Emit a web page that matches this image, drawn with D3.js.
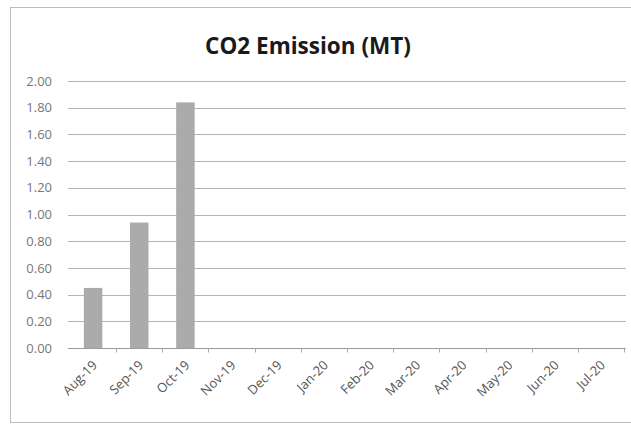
<!DOCTYPE html>
<html><head><meta charset="utf-8">
<script src="https://cdn.jsdelivr.net/npm/d3@7"></script>
<style>body{margin:0;background:#fff}svg{display:block}</style>
</head><body>
<svg id="c" width="631" height="426"></svg>
<script>
const categories = ["Aug-19","Sep-19","Oct-19","Nov-19","Dec-19","Jan-20","Feb-20","Mar-20","Apr-20","May-20","Jun-20","Jul-20"];
const emissions = [0.45, 0.94, 1.84, null, null, null, null, null, null, null, null, null];
const yTicks = [0, 0.2, 0.4, 0.6, 0.8, 1.0, 1.2, 1.4, 1.6, 1.8, 2.0];
const title = "CO2 Emission (MT)";

const svg = d3.select("#c");
const W = 631, H = 426;
const m = {left: 70, right: 7, top: 81, bottom: 78};

svg.append("rect").attr("x", 10.5).attr("y", 7.5).attr("width", 630).attr("height", 415)
  .attr("fill", "#fff").attr("stroke", "#bdbdbd").attr("stroke-width", 1);

const x = d3.scaleBand().domain(categories).range([m.left, W - m.right]).paddingInner(0.6).paddingOuter(0.3);
const xb = d3.scaleBand().domain(categories).range([m.left, W - m.right]);
const y = d3.scaleLinear().domain([0, 2]).range([H - m.bottom, m.top]);

svg.append("text").attr("x", 308).attr("y", 54).attr("text-anchor", "middle")
  .attr("font-family", "Open Sans, sans-serif").attr("font-weight", "bold").attr("font-size", 22.5)
  .attr("fill", "#1a1a1a").text(title);

// gridlines
svg.append("g").selectAll("line").data(yTicks).join("line")
  .attr("x1", m.left - 2).attr("x2", W - m.right + 2)
  .attr("y1", d => Math.round(y(d)) + 0.5).attr("y2", d => Math.round(y(d)) + 0.5)
  .attr("stroke", d => d === 0 ? "#9a9a9a" : "#b5b5b5").attr("stroke-width", 1);

// y axis labels
const yAxis = d3.axisLeft(y).tickValues(yTicks).tickFormat(d3.format(".2f")).tickSize(0).tickPadding(0);
const gy = svg.append("g").attr("transform", `translate(52,0)`).call(yAxis);
gy.select(".domain").remove();
gy.selectAll("text").attr("font-family", "Open Sans, sans-serif").attr("font-size", 13).attr("fill", "#777");

// bars
svg.append("g").selectAll("rect").data(categories.map((c, i) => ({c, v: emissions[i]})).filter(d => d.v != null))
  .join("rect")
  .attr("x", d => x(d.c)).attr("width", x.bandwidth())
  .attr("y", d => y(d.v)).attr("height", d => y(0) - y(d.v))
  .attr("fill", "#ababab");

// x ticks
const gx = svg.append("g").attr("transform", `translate(0,${Math.round(y(0)) + 0.5})`);
gx.selectAll("line").data(categories).join("line")
  .attr("x1", d => Math.round(xb(d) + xb.bandwidth()) + 0.5)
  .attr("x2", d => Math.round(xb(d) + xb.bandwidth()) + 0.5)
  .attr("y1", 0).attr("y2", 4).attr("stroke", "#aaa");

const xAxis = d3.axisBottom(xb).tickSize(0).tickPadding(0);
const gxa = svg.append("g").attr("transform", `translate(0,${y(0)})`).call(xAxis);
gxa.select(".domain").remove();
gxa.selectAll("text")
  .attr("font-family", "Open Sans, sans-serif").attr("font-size", 13).attr("fill", "#555")
  .attr("text-anchor", "end").attr("dy", null).attr("y", 0)
  .attr("transform", "translate(5,18) rotate(-45)");
</script>
</body></html>
